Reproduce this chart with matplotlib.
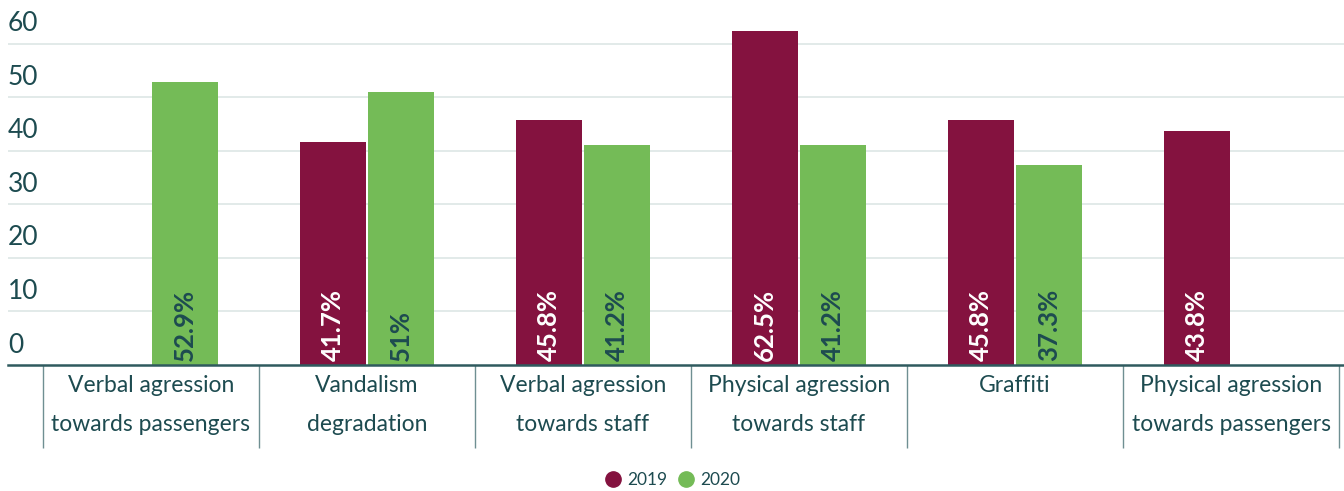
import numpy as np
import matplotlib.pyplot as plt

categories = ["Verbal agression\ntowards passengers", "Vandalism\ndegradation",
              "Verbal agression\ntowards staff", "Physical agression\ntowards staff",
              "Graffiti", "Physical agression\ntowards passengers"]
vals_2019 = [np.nan, 41.7, 45.8, 62.5, 45.8, 43.8]
vals_2020 = [52.9, 51.0, 41.2, 41.2, 37.3, np.nan]
labels_2019 = ["", "41.7%", "45.8%", "62.5%", "45.8%", "43.8%"]
labels_2020 = ["52.9%", "51%", "41.2%", "41.2%", "37.3%", ""]
yticks = [0, 10, 20, 30, 40, 50, 60]

RED = "#84123f"
GREEN = "#74bb57"
TEXT = "#1d4b50"
GRID = "#dfe8e7"

plt.rcParams['font.family'] = ['Lato', 'DejaVu Sans']

fig = plt.figure(figsize=(13.44, 4.91), dpi=100)
ax = fig.add_axes([8 / 1344, 126 / 491, 1336 / 1344, 365 / 491])

x = np.arange(len(categories))
w = 0.305
off = 0.158
b1 = ax.bar(x - off, vals_2019, w, color=RED, label="2019", zorder=3)
b2 = ax.bar(x + off, vals_2020, w, color=GREEN, label="2020", zorder=3)

for bars, labs, col in [(b1, labels_2019, "white"), (b2, labels_2020, TEXT)]:
    for rect, lab in zip(bars, labs):
        if not lab:
            continue
        ax.text(rect.get_x() + rect.get_width() / 2, 0.8, lab, rotation=90,
                ha="center", va="bottom", color=col, fontsize=18.5,
                fontweight="bold", zorder=4)

ax.set_xlim(-0.662, 5.523)
ax.set_ylim(0, 68.2)
ax.set_yticks(yticks)
ax.set_yticklabels([])
ax.tick_params(axis="y", length=0)
for t in yticks:
    if t > 0:
        ax.axhline(t, color=GRID, lw=1.3, zorder=1)
    ax.text(0, t + 1.4, str(t), transform=ax.get_yaxis_transform(),
            ha="left", va="bottom", color=TEXT, fontsize=19)

ax.set_xticks(x)
ax.set_xticklabels(categories, fontsize=16.5, color=TEXT, linespacing=2.05)
ax.tick_params(axis="x", which="major", length=0, pad=7)
ax.set_xticks(np.arange(len(categories) + 1) - 0.5, minor=True)
ax.tick_params(axis="x", which="minor", length=60, width=1, color="#6f8f92", direction="out")

for s in ["top", "right", "left"]:
    ax.spines[s].set_visible(False)
ax.spines["bottom"].set_color("#2f5a5e")
ax.spines["bottom"].set_linewidth(1.8)
ax.spines["bottom"].set_zorder(5)

h = [plt.Line2D([], [], marker="o", ls="", color=RED, markersize=11),
     plt.Line2D([], [], marker="o", ls="", color=GREEN, markersize=11)]
fig.legend(h, ["2019", "2020"], loc="lower center", bbox_to_anchor=(0.5, -0.025),
           ncol=2, frameon=False, fontsize=12.5, labelcolor=TEXT,
           handletextpad=0.3, columnspacing=0.6, handlelength=1.0)

fig.savefig("out.png", dpi=100)
